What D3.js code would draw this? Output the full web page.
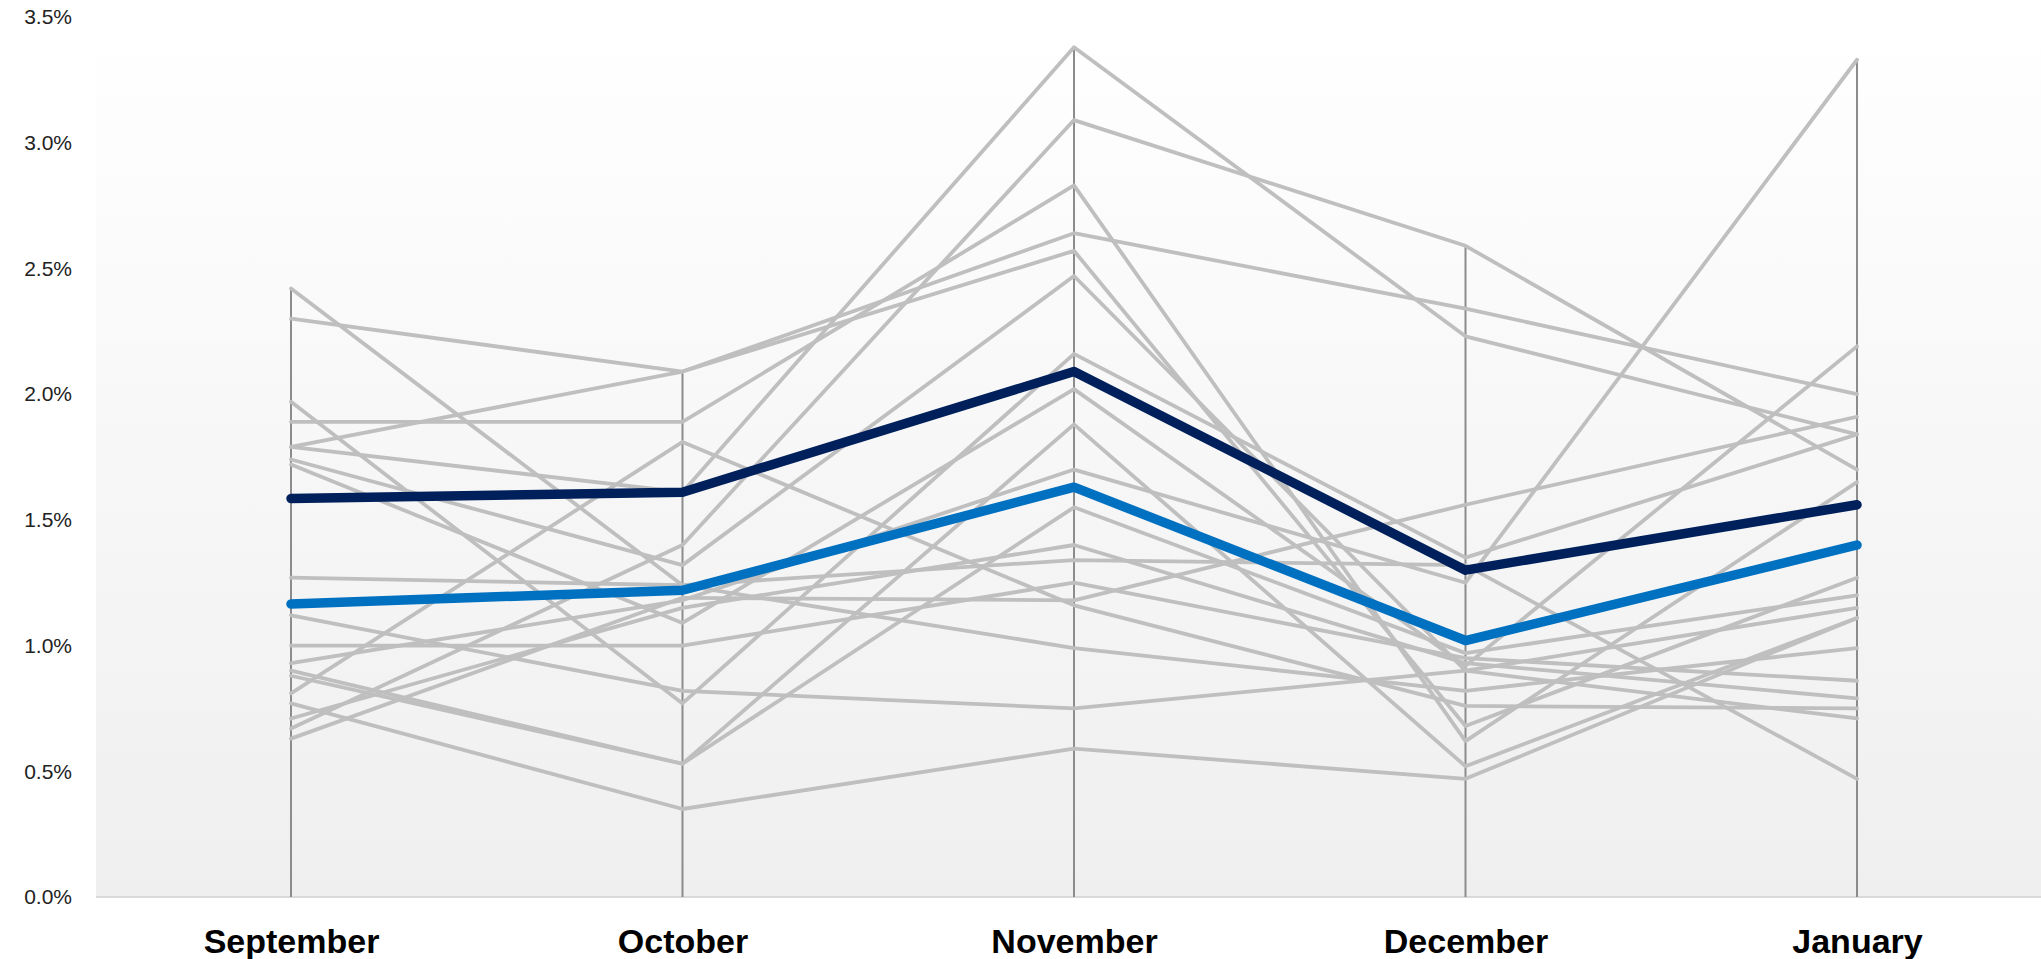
<!DOCTYPE html>
<html>
<head>
<meta charset="utf-8">
<script src="https://cdn.jsdelivr.net/npm/d3@7"></script>
<style>
  html, body { margin: 0; padding: 0; background: #ffffff; }
  svg { display: block; }
</style>
</head>
<body>
<svg id="chart" width="2041" height="959"></svg>
<script>
const months = ["September", "October", "November", "December", "January"];
const yTicks = [0, 0.5, 1.0, 1.5, 2.0, 2.5, 3.0, 3.5];

// Grey background series (percent values at each month)
const s01 = [2.42, 1.24, 0.99, 0.82, 0.99];
const s02 = [2.30, 2.09, 2.64, 2.34, 2.00];
const s03 = [1.97, 0.77, 2.16, 1.35, 1.84];
const s04 = [1.89, 1.89, 2.83, 0.62, 1.65];
const s05 = [1.79, 2.09, 2.57, 0.68, 1.27];
const s06 = [1.79, 1.61, 3.38, 2.23, 1.84];
const s07 = [1.74, 1.32, 2.47, 0.90, 0.71];
const s08 = [1.72, 1.09, 2.02, 0.92, 2.19];
const s09 = [1.27, 1.24, 1.34, 1.32, 0.47];
const s10 = [1.12, 0.82, 0.75, 0.90, 1.15];
const s11 = [1.00, 1.00, 1.25, 0.95, 0.86];
const s12 = [0.93, 1.18, 1.70, 1.25, 3.33];
const s13 = [0.90, 0.53, 1.88, 0.52, 1.11];
const s14 = [0.81, 1.81, 1.16, 0.76, 0.75];
const s15 = [0.88, 0.53, 1.55, 0.97, 1.20];
const s16 = [0.77, 0.35, 0.59, 0.47, 1.11];
const s17 = [0.71, 1.15, 1.40, 0.93, 0.79];
const s18 = [0.67, 1.40, 3.09, 2.59, 1.70];
const s19 = [0.63, 1.19, 1.18, 1.56, 1.91];
const greySeries = [s01, s02, s03, s04, s05, s06, s07, s08, s09, s10,
                    s11, s12, s13, s14, s15, s16, s17, s18, s19];

// Highlighted series
const navySeries = [1.585, 1.61, 2.09, 1.30, 1.56];
const blueSeries = [1.165, 1.22, 1.63, 1.02, 1.40];

const svg = d3.select("#chart");
const plotLeft = 96, plotRight = 2041, plotTop = 17, plotBottom = 897;

const x = d3.scalePoint().domain(months).range([291, 1857]);
const y = d3.scaleLinear().domain([0, 3.5]).range([plotBottom, plotTop]);

// background gradient
const defs = svg.append("defs");
const grad = defs.append("linearGradient").attr("id", "bg")
  .attr("x1", 0).attr("y1", 0).attr("x2", 0).attr("y2", 1);
grad.append("stop").attr("offset", "0%").attr("stop-color", "#ffffff");
grad.append("stop").attr("offset", "100%").attr("stop-color", "#efefef");

svg.append("rect")
  .attr("x", plotLeft).attr("y", plotTop)
  .attr("width", plotRight - plotLeft).attr("height", plotBottom - plotTop)
  .attr("fill", "url(#bg)");

// baseline
svg.append("line")
  .attr("x1", plotLeft).attr("x2", plotRight)
  .attr("y1", plotBottom).attr("y2", plotBottom)
  .attr("stroke", "#d9d9d9").attr("stroke-width", 2);

// y axis labels
const yAxis = d3.axisLeft(y).tickValues(yTicks)
  .tickFormat(d => d3.format(".1f")(d) + "%").tickSize(0).tickPadding(0);
const gy = svg.append("g").attr("transform", "translate(72,0)").call(yAxis);
gy.select(".domain").remove();
gy.selectAll("text")
  .attr("font-family", "'Liberation Sans', Arial, sans-serif")
  .attr("font-size", 21)
  .attr("fill", "#222");

// vertical month axes: from 0 to max value on each
const allSeries = greySeries.concat([navySeries, blueSeries]);
months.forEach((m, i) => {
  const mx = d3.max(allSeries, s => s[i]);
  svg.append("line")
    .attr("x1", x(m)).attr("x2", x(m))
    .attr("y1", y(mx)).attr("y2", y(0))
    .attr("stroke", "#8c8c8c").attr("stroke-width", 2);
});

const line = d3.line().x((d, i) => x(months[i])).y(d => y(d));

svg.append("g").selectAll("path").data(greySeries).join("path")
  .attr("d", line)
  .attr("fill", "none")
  .attr("stroke", "#bfbfbf")
  .attr("stroke-width", 3.8)
  .attr("stroke-linejoin", "round")
  .attr("stroke-linecap", "round");

svg.append("path").datum(blueSeries)
  .attr("d", line).attr("fill", "none")
  .attr("stroke", "#0070c0").attr("stroke-width", 9.5)
  .attr("stroke-linejoin", "round").attr("stroke-linecap", "round");

svg.append("path").datum(navySeries)
  .attr("d", line).attr("fill", "none")
  .attr("stroke", "#00205b").attr("stroke-width", 9.5)
  .attr("stroke-linejoin", "round").attr("stroke-linecap", "round");

// x axis category labels
const xAxis = d3.axisBottom(x).tickSize(0).tickPadding(0);
const gx = svg.append("g").attr("transform", "translate(0,929)").call(xAxis);
gx.select(".domain").remove();
gx.selectAll("text")
  .attr("font-family", "'Liberation Sans', Arial, sans-serif")
  .attr("font-size", 34)
  .attr("font-weight", "bold")
  .attr("fill", "#000")
  .attr("dy", "0.71em");
</script>
</body>
</html>
